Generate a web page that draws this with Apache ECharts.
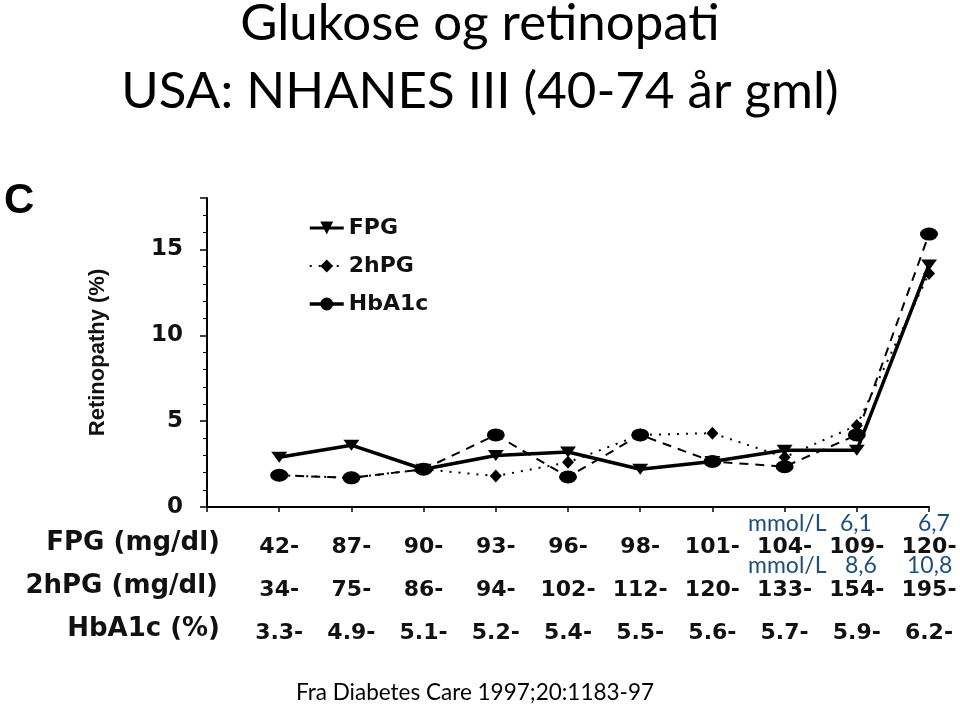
<!DOCTYPE html>
<html>
<head>
<meta charset="utf-8">
<script src="https://cdn.jsdelivr.net/npm/echarts@6/dist/echarts.min.js"></script>
<style>
html,body{margin:0;padding:0;background:#fff;}
#c{width:960px;height:709px;}
</style>
</head>
<body>
<div id="c"></div>
<script>
// ---- data ----
var fpgLabels   = ['42-','87-','90-','93-','96-','98-','101-','104-','109-','120-'];
var hpgLabels   = ['34-','75-','86-','94-','102-','112-','120-','133-','154-','195-'];
var hba1cLabels = ['3.3-','4.9-','5.1-','5.2-','5.4-','5.5-','5.6-','5.7-','5.9-','6.2-'];
var rowNames    = ['FPG (mg/dl)','2hPG (mg/dl)','HbA1c (%)'];
var fpgValues   = [2.9, 3.6, 2.2, 3.0, 3.2, 2.2, 2.65, 3.3, 3.3, 14.1];
var hpgValues   = [1.85, 1.7, 2.2, 1.8, 2.6, 4.2, 4.3, 2.9, 4.75, 13.6];
var hba1cValues = [1.85, 1.7, 2.2, 4.2, 1.75, 4.2, 2.65, 2.35, 4.2, 15.9];
var seriesNames = ['FPG','2hPG','HbA1c'];
var yTicks = [0, 5, 10, 15];

var chart = echarts.init(document.getElementById('c'));
var pad = function(a){ return [null].concat(a); };
var cat = function(a){ return [''].concat(a); };
var boldFont = 'DejaVu Sans';

function labelAxis(labels, offset, showLine){
  return {
    type:'category', data:cat(labels), boundaryGap:false, position:'bottom', offset:offset,
    axisLine:{show:showLine, onZero:false, lineStyle:{color:'#000', width:2}},
    axisTick:{show:showLine, length:5, lineStyle:{color:'#000', width:1.5}},
    axisLabel:{show:true, margin:29, interval:0, color:'#111',
      fontFamily:boldFont, fontWeight:'bold', fontSize:22},
    splitLine:{show:false}
  };
}

var option = {
  backgroundColor:'#fff',
  animation:false,
  title:{
    text:'Glukose og retinopati\nUSA: NHANES III (40-74 år gml)',
    left:'center', top:-15,
    textStyle:{fontFamily:'Lato', fontWeight:'normal', fontSize:51, lineHeight:68, color:'#000'}
  },
  legend:{
    orient:'vertical', left:303, top:212, itemGap:16, itemWidth:34, itemHeight:16,
    textStyle:{fontFamily:boldFont, fontWeight:'bold', fontSize:22, color:'#111'},
    data:[
      {name:'FPG', lineStyle:{width:3}},
      {name:'2hPG'},
      {name:'HbA1c', lineStyle:{type:'solid', width:3.5}}
    ]
  },
  grid:{left:207, right:31, top:198, bottom:202, containLabel:false},
  xAxis:[
    labelAxis(fpgLabels, 0, true),
    labelAxis(hpgLabels, 43, false),
    labelAxis(hba1cLabels, 86, false)
  ],
  yAxis:{
    type:'value', min:0, max:18, interval:5,
    name:'Retinopathy (%)', nameLocation:'middle', nameGap:98, nameRotate:90,
    nameTextStyle:{fontFamily:'Liberation Sans', fontWeight:'bold', fontSize:22, color:'#111'},
    axisLine:{show:true, lineStyle:{color:'#000', width:2}},
    axisTick:{show:true, length:7, lineStyle:{color:'#000', width:1.5}},
    minorTick:{show:true, splitNumber:5, length:4, lineStyle:{color:'#000', width:1}},
    splitLine:{show:false},
    axisLabel:{margin:24, color:'#111', fontFamily:boldFont, fontWeight:'bold', fontSize:23,
      formatter:function(v){ return yTicks.indexOf(v) >= 0 ? String(v) : ''; }}
  },
  series:[
    {name:seriesNames[0], type:'line', data:pad(fpgValues), xAxisIndex:0,
     symbol:'triangle', symbolRotate:180, symbolSize:[16,11], z:3,
     itemStyle:{color:'#000'}, lineStyle:{color:'#000', width:3.5, type:'solid'}},
    {name:seriesNames[1], type:'line', data:pad(hpgValues), xAxisIndex:0,
     symbol:'diamond', symbolSize:[12,13], z:2,
     itemStyle:{color:'#000'}, lineStyle:{color:'#000', width:2, type:[2,7]}},
    {name:seriesNames[2], type:'line', data:pad(hba1cValues), xAxisIndex:0,
     symbol:'circle', symbolSize:[18,13], z:2,
     itemStyle:{color:'#000'}, lineStyle:{color:'#000', width:2, type:[9,7]}}
  ],
  graphic:[
    {type:'text', left:4, top:180, style:{text:'C', fontFamily:'Liberation Sans', fontWeight:'bold', fontSize:42, fill:'#000'}},
    {type:'text', right:740, top:530, style:{text:rowNames[0], fontFamily:boldFont, fontWeight:'bold', fontSize:26, fill:'#111'}},
    {type:'text', right:742, top:573, style:{text:rowNames[1], fontFamily:boldFont, fontWeight:'bold', fontSize:26, fill:'#111'}},
    {type:'text', right:740, top:616, style:{text:rowNames[2], fontFamily:boldFont, fontWeight:'bold', fontSize:26, fill:'#111'}},
    {type:'text', left:748, top:512, style:{text:'mmol/L', fontFamily:'Lato', fontSize:23, fill:'#1F4E79'}},
    {type:'text', left:840, top:512, style:{text:'6,1', fontFamily:'Lato', fontSize:23, fill:'#1F4E79'}},
    {type:'text', left:918, top:512, style:{text:'6,7', fontFamily:'Lato', fontSize:23, fill:'#1F4E79'}},
    {type:'text', left:748, top:554, style:{text:'mmol/L', fontFamily:'Lato', fontSize:23, fill:'#1F4E79'}},
    {type:'text', left:845, top:554, style:{text:'8,6', fontFamily:'Lato', fontSize:23, fill:'#1F4E79'}},
    {type:'text', left:907, top:554, style:{text:'10,8', fontFamily:'Lato', fontSize:23, fill:'#1F4E79'}},
    {type:'text', left:296, top:681, style:{text:'Fra Diabetes Care 1997;20:1183-97', fontFamily:'Lato', fontSize:22.5, fill:'#000'}}
  ]
};
chart.setOption(option);
</script>
</body>
</html>
